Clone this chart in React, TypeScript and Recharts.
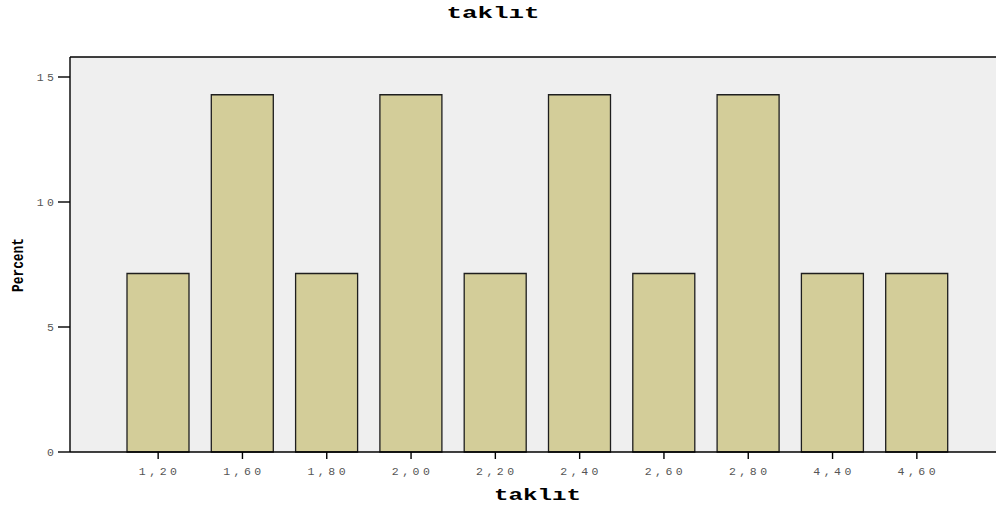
import { BarChart, Bar, XAxis, YAxis, CartesianGrid, ReferenceLine } from 'recharts';

const categories = ['1,20', '1,60', '1,80', '2,00', '2,20', '2,40', '2,60', '2,80', '4,40', '4,60'];
const percents = [7.14, 14.29, 7.14, 14.29, 7.14, 14.29, 7.14, 14.29, 7.14, 7.14];
const yTicks = [0, 5, 10, 15];
const yMax = 15.8;

const data = categories.map((c, i) => ({ name: c, percent: percents[i] }));

const mono = '"Liberation Mono", "DejaVu Sans Mono", monospace';

function XTick({ x, y, payload }: any) {
  return (
    <text x={x + 1.5} y={y + 14} textAnchor="middle" fontFamily={mono} fontSize={11.5}
      letterSpacing={3.5} fill="#555">
      {payload.value}
    </text>
  );
}

function YTick({ x, y, payload }: any) {
  return (
    <text x={x + 1.5} y={y + 4} textAnchor="end" fontFamily={mono} fontSize={11.5}
      letterSpacing={3.5} fill="#555">
      {payload.value}
    </text>
  );
}

export default function App() {
  return (
    <div style={{ position: 'absolute', left: 0, top: 0, width: 996, height: 507, overflow: 'hidden', background: '#fff' }}>
      <svg width={996} height={30} style={{ position: 'absolute', left: 0, top: 0 }}>
        <text x={493} y={18} textAnchor="middle" fontFamily={mono} fontWeight="bold" fontSize={16}
          textLength={93} lengthAdjust="spacingAndGlyphs" fill="#000">
          taklıt
        </text>
      </svg>
      <BarChart width={1005} height={507} data={data} margin={{ top: 57, right: 0, bottom: 5, left: 0 }}>
        <CartesianGrid fill="#efefef" stroke="none" horizontal={false} vertical={false} />
        <XAxis
          dataKey="name"
          height={50}
          padding={{ left: 46, right: 46 }}
          tickSize={7}
          tickLine={{ stroke: '#000', strokeWidth: 1.4 }}
          axisLine={{ stroke: '#000', strokeWidth: 1.4 }}
          tick={<XTick />}
          interval={0}
          label={{
            content: ({ viewBox }: any) => (
              <text x={viewBox.x + viewBox.width / 2} y={500} textAnchor="middle" fontFamily={mono}
                fontWeight="bold" fontSize={16} textLength={87} lengthAdjust="spacingAndGlyphs" fill="#000">
                taklıt
              </text>
            ),
          }}
        />
        <YAxis
          width={70}
          domain={[0, yMax]}
          ticks={yTicks}
          tickSize={12}
          tickLine={{ stroke: '#000', strokeWidth: 1.4 }}
          axisLine={{ stroke: '#000', strokeWidth: 1.4 }}
          tick={<YTick />}
          label={{
            content: () => (
              <text x={23} y={265} transform="rotate(-90 23 265)" textAnchor="middle" fontFamily={mono}
                fontWeight="bold" fontSize={16} textLength={54} lengthAdjust="spacingAndGlyphs" fill="#000">
                Percent
              </text>
            ),
          }}
        />
        <ReferenceLine y={yMax} stroke="#000" strokeWidth={1.4} />
        <Bar dataKey="percent" barSize={62} fill="#d3cd99" stroke="#1e1e1e" strokeWidth={1.3} isAnimationActive={false} />
      </BarChart>
    </div>
  );
}
